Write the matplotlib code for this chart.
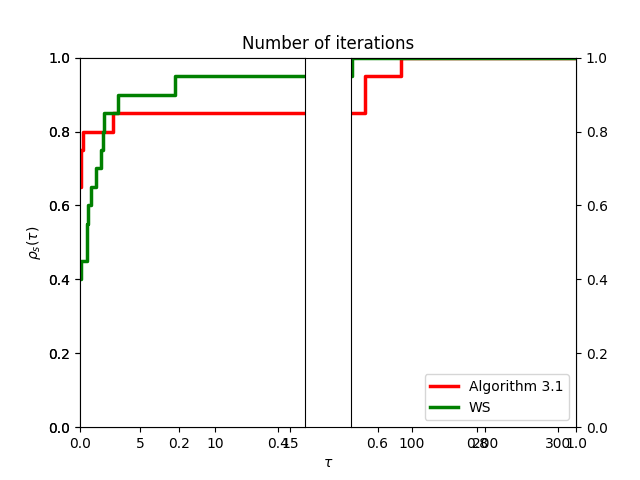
import matplotlib
matplotlib.use("Agg")
import matplotlib.pyplot as plt

# performance profile data (tau, fraction of problems solved)
tau_alg = [1.0, 1.05, 1.08, 1.22, 3.22, 36.0, 85.6, 324.0]
rho_alg = [0.65, 0.70, 0.75, 0.80, 0.85, 0.95, 1.00, 1.00]

tau_ws = [1.0, 1.05, 1.45, 1.5, 1.73, 2.04, 2.4, 2.55, 2.62, 3.55, 7.33, 18.0, 324.0]
rho_ws = [0.40, 0.45, 0.55, 0.60, 0.65, 0.70, 0.75, 0.80, 0.85, 0.90, 0.95, 1.00, 1.00]

left_lim = (1, 16)
right_lim = (16, 324)
left_ticks = [5, 10, 15]
right_ticks = [100, 200, 300]

fig = plt.figure(figsize=(6.4, 4.8), dpi=100)

# big frame axes underneath: title, labels, 0..1 ticks
big = fig.add_subplot(111)
big.set_zorder(0)
big.set_xlim(0, 1)
big.set_ylim(0, 1)
big.set_title("Number of iterations")
big.set_xlabel(r"$\tau$")
big.set_ylabel(r"$\rho_s(\tau)$")

ax1 = fig.add_subplot(121)
ax2 = fig.add_subplot(122)
for ax in (ax1, ax2):
    ax.set_zorder(1)
    ax.step(tau_alg, rho_alg, where="post", color="red", lw=2.5,
            label="Algorithm 3.1")
    ax.step(tau_ws, rho_ws, where="post", color="green", lw=2.5, label="WS")
    ax.set_ylim(0, 1)

ax1.set_xlim(*left_lim)
ax1.set_xticks(left_ticks)
ax2.set_xlim(*right_lim)
ax2.set_xticks(right_ticks)
ax2.yaxis.tick_right()
ax2.legend(loc="lower right")

fig.savefig("out.png", dpi=100)
